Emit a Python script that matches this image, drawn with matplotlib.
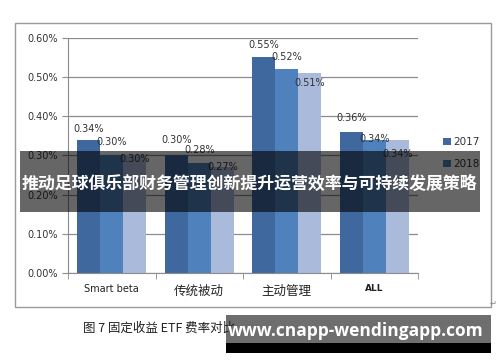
import matplotlib.pyplot as plt
import numpy as np
from matplotlib.patches import Rectangle

plt.rcParams['font.family'] = ['DejaVu Sans', 'Noto Sans CJK SC']

categories = ['Smart beta', '传统被动', '主动管理', 'ALL']
series_names = ['2017', '2018', '2019']
fee_2017 = [0.34, 0.30, 0.55, 0.36]
fee_2018 = [0.30, 0.28, 0.52, 0.34]
fee_2019 = [0.30, 0.27, 0.51, 0.34]
y_ticks = [0.0, 0.1, 0.2, 0.3, 0.4, 0.5, 0.6]

banner_text = '推动足球俱乐部财务管理创新提升运营效率与可持续发展策略'
caption_text = '图 7 固定收益 ETF 费率对比'
watermark_text = 'www.cnapp-wendingapp.com'

colors = ['#3F689E', '#4F81BD', '#AABADA']
# label offsets in pixels above the bar top (Excel labels were nudged by hand)
label_dy = [[11, 15, 12, 14], [13, 13, 12, 1], [-4, 0, -10, -14]]

W, H = 500, 362
fig = plt.figure(figsize=(W / 100, H / 100), dpi=100)

def px_axes(x0, y0, x1, y1):
    return fig.add_axes([x0 / W, 1 - y1 / H, (x1 - x0) / W, (y1 - y0) / H])

ax = px_axes(68, 37.5, 418, 273.3)

x = np.arange(len(categories))
bw = 0.263
all_series = [fee_2017, fee_2018, fee_2019]
bars = []
for i, vals in enumerate(all_series):
    b = ax.bar(x + (i - 1) * bw, vals, width=bw, color=colors[i],
               label=series_names[i], zorder=2)
    bars.append(b)
    for j, v in enumerate(vals):
        ax.annotate(f'{v:.2f}%', (x[j] + (i - 1) * bw, v),
                    xytext=(0, label_dy[i][j] * 0.72), textcoords='offset points',
                    ha='center', va='center', fontsize=7, color='#333333', zorder=3)

ax.set_xlim(-0.5, 3.5)
ax.set_ylim(0, 0.6)
ax.set_yticks(y_ticks)
ax.set_yticklabels([f'{t:.2f}%' for t in y_ticks], fontsize=7, color='#333333')
ax.yaxis.grid(True, color='#8C8C8C', linewidth=0.9, zorder=0)
ax.set_axisbelow(True)
ax.tick_params(axis='y', length=4, color='#8C8C8C', pad=3)
ax.set_xticks(x)
ax.set_xticklabels(categories, color='#222222')
ax.tick_params(axis='x', length=0, pad=8)
ax.set_xticks(np.arange(-0.5, 4, 1), minor=True)
ax.tick_params(axis='x', which='minor', length=4, color='#8C8C8C')
tl = ax.get_xticklabels()
tl[0].set_fontsize(7)
tl[1].set_fontsize(9)
tl[2].set_fontsize(9)
tl[3].set_fontsize(6.5)
tl[3].set_fontweight('bold')
for s in ['top', 'right']:
    ax.spines[s].set_visible(False)
for s in ['left', 'bottom']:
    ax.spines[s].set_color('#8C8C8C')

# only the first two legend entries show in the reference
fig.legend(handles=bars[:2], labels=series_names[:2], loc='center left',
           bbox_to_anchor=(434 / W, 1 - 153 / H), frameon=False, fontsize=7.5,
           handlelength=0.75, handleheight=0.75, handletextpad=0.15,
           labelspacing=1.15, labelcolor='#333333')

# overlay in pixel coordinates
ov = fig.add_axes([0, 0, 1, 1], zorder=10)
ov.set_xlim(0, W)
ov.set_ylim(H, 0)
ov.axis('off')
ov.patch.set_alpha(0)

ov.add_patch(Rectangle((15, 23), 476, 284, fill=False, edgecolor='#9A9A9A', linewidth=1))
ov.text(490, 303, '\u21b5', fontsize=6, color='#888888', ha='left', va='center')
ov.text(83, 328, caption_text, fontsize=9, color='#222222', ha='left', va='center',
        family=['Noto Sans CJK SC', 'DejaVu Sans'])

ov.add_patch(Rectangle((20, 151), 460, 61, facecolor='black', alpha=0.6, linewidth=0))
ov.text(249, 184, banner_text, fontsize=12.2, color='white', fontweight='bold',
        ha='center', va='center', family=['Noto Sans CJK SC', 'DejaVu Sans'])

ov.add_patch(Rectangle((226, 315), 265, 28, facecolor='#666666', alpha=0.95, linewidth=0))
ov.add_patch(Rectangle((226, 343), 265, 10, facecolor='black', linewidth=0))
ov.text(356, 331, watermark_text, fontsize=12.5, color='white', fontweight='bold',
        ha='center', va='center', family='Open Sans')

fig.savefig('out.png', dpi=100)
